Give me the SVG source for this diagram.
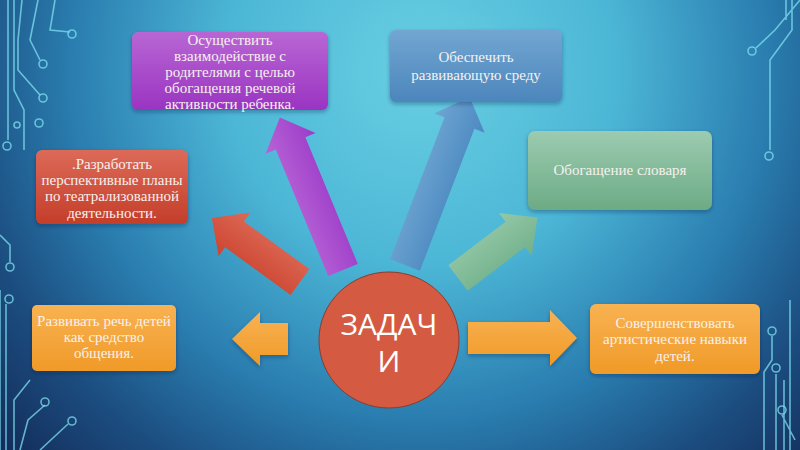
<svg xmlns="http://www.w3.org/2000/svg" width="800" height="450" viewBox="0 0 800 450">
<defs>
<radialGradient id="bg" gradientUnits="userSpaceOnUse" cx="420" cy="70" r="560">
<stop offset="0" stop-color="#68cfe2"/>
<stop offset="0.35" stop-color="#4cb6d6"/>
<stop offset="0.62" stop-color="#2a7eb0"/>
<stop offset="0.82" stop-color="#1c4d80"/>
<stop offset="1" stop-color="#132e5c"/>
</radialGradient>
<linearGradient id="gPurple" x1="0" y1="0" x2="0" y2="1"><stop offset="0" stop-color="#b866d4"/><stop offset="1" stop-color="#9a34c2"/></linearGradient>
<linearGradient id="gBlue" x1="0" y1="0" x2="0" y2="1"><stop offset="0" stop-color="#72a6d2"/><stop offset="1" stop-color="#4c86bc"/></linearGradient>
<linearGradient id="gRed" x1="0" y1="0" x2="0" y2="1"><stop offset="0" stop-color="#dc6a58"/><stop offset="1" stop-color="#c43e2a"/></linearGradient>
<linearGradient id="gGreen" x1="0" y1="0" x2="0" y2="1"><stop offset="0" stop-color="#9ccbb0"/><stop offset="1" stop-color="#6cab84"/></linearGradient>
<linearGradient id="gOrange" x1="0" y1="0" x2="0" y2="1"><stop offset="0" stop-color="#f8b252"/><stop offset="1" stop-color="#f09a28"/></linearGradient>
<linearGradient id="aPurple" x1="0" y1="0" x2="0" y2="1"><stop offset="0" stop-color="#b863d6"/><stop offset="1" stop-color="#9c3cc8"/></linearGradient>
<linearGradient id="aBlue" x1="0" y1="0" x2="0" y2="1"><stop offset="0" stop-color="#6ea6d2"/><stop offset="1" stop-color="#4c88c0"/></linearGradient>
<linearGradient id="aRed" x1="0" y1="0" x2="0" y2="1"><stop offset="0" stop-color="#cc4430"/><stop offset="1" stop-color="#dc6a56"/></linearGradient>
<linearGradient id="aGreen" x1="0" y1="0" x2="0" y2="1"><stop offset="0" stop-color="#94c8a8"/><stop offset="1" stop-color="#72b08a"/></linearGradient>
<filter id="sh" x="-10%" y="-10%" width="120%" height="130%">
<feDropShadow dx="0" dy="2" stdDeviation="2" flood-color="#0a2040" flood-opacity="0.35"/>
</filter>
</defs>
<style>
.t{font-family:"Liberation Serif","Times New Roman",serif;font-size:15px;fill:#f6f1ee;text-anchor:middle}
.c{font-family:"Open Sans","Liberation Sans",Arial,sans-serif;font-size:30px;fill:#ffffff;text-anchor:middle}
.ln{fill:none;stroke:#7fe0f0;stroke-width:1.6;opacity:0.75}
.dot{fill:none;stroke:#7fe0f0;stroke-width:1.6;opacity:0.75}
</style>
<rect width="800" height="450" fill="url(#bg)"/>

<g id="circuits">
<path class="ln" d="M8 0 V140 M14 0 V90 L24 110 V150 M22 0 L18 40 V70 L40 95 M38 0 L30 40 L40 60 M55 0 L50 30 L70 32"/>
<circle class="dot" cx="72" cy="34" r="4"/>
<circle class="dot" cx="43" cy="64" r="4"/>
<circle class="dot" cx="43" cy="98" r="4"/>
<circle class="dot" cx="39" cy="123" r="4"/>
<circle class="dot" cx="17" cy="125" r="3"/>
<circle class="dot" cx="7" cy="146" r="4"/>
<path class="ln" d="M0 235 L10 245 V262 M0 290 V450 M6 304 V450 M14 450 V400 L30 380 M20 450 L28 420 L45 405 M40 450 L68 424"/>
<circle class="dot" cx="10" cy="267" r="4"/>
<circle class="dot" cx="9" cy="299" r="4"/>
<circle class="dot" cx="45" cy="402" r="4"/>
<circle class="dot" cx="72" cy="421" r="4"/>
<path class="ln" d="M800 0 L775 30 L756 48 M792 0 V30 L770 60 V150 M786 0 V20"/>
<circle class="dot" cx="752" cy="51" r="4"/>
<circle class="dot" cx="769" cy="156" r="4"/>
<path class="ln" d="M772 336 V360 L764 372 V450 M776 374 V450 M790 300 V450 M784 380 V450 M782 415 L795 440"/>
<circle class="dot" cx="772" cy="331" r="4"/>
<circle class="dot" cx="776" cy="368" r="4"/>
<circle class="dot" cx="782" cy="410" r="4"/>
</g>

<g id="connectors">
<path d="M0 -16 H-28 V-27 L-56 0 L-28 27 V16 H0 Z" fill="url(#gOrange)" transform="translate(288 339)" filter="url(#sh)"/>
<path d="M0 -16 H82 V-28 L109 0 L82 28 V16 H0 Z" fill="url(#gOrange)" transform="translate(468 338)" filter="url(#sh)"/>
<g transform="translate(300 282) rotate(-144)"><path d="M0 -16 H81 V-27 L109 0 L81 27 V16 H0 Z" fill="url(#aRed)"/></g>
<g transform="translate(343 270) rotate(-112.5)"><path d="M0 -16 H137 V-27 L165 0 L137 27 V16 H0 Z" fill="url(#aPurple)"/></g>
<g transform="translate(405 265) rotate(-69)"><path d="M0 -16 H152 V-27 L180 0 L152 27 V16 H0 Z" fill="url(#aBlue)"/></g>
<g transform="translate(458 278) rotate(-37.3)"><path d="M0 -16 H72 V-27 L100 0 L72 27 V16 H0 Z" fill="url(#aGreen)"/></g>
</g>

<g id="node-purple">
<rect x="132" y="32" width="196" height="78" rx="6" fill="url(#gPurple)" filter="url(#sh)"/>
<text class="t" x="230" y="45">Осуществить</text>
<text class="t" x="230" y="61">взаимодействие с</text>
<text class="t" x="230" y="77">родителями с целью</text>
<text class="t" x="230" y="93">обогащения речевой</text>
<text class="t" x="230" y="109">активности ребенка.</text>
</g>

<g id="node-blue">
<rect x="390" y="30" width="172" height="72" rx="6" fill="url(#gBlue)" filter="url(#sh)"/>
<text class="t" x="476" y="62">Обеспечить</text>
<text class="t" x="476" y="80">развивающую среду</text>
</g>

<g id="node-red">
<rect x="36" y="150" width="152" height="74" rx="6" fill="url(#gRed)" filter="url(#sh)"/>
<text class="t" x="112" y="169">.Разработать</text>
<text class="t" x="112" y="185">перспективные планы</text>
<text class="t" x="112" y="201">по театрализованной</text>
<text class="t" x="112" y="218">деятельности.</text>
</g>

<g id="node-green">
<rect x="528" y="131" width="184" height="79" rx="7" fill="url(#gGreen)" filter="url(#sh)"/>
<text class="t" x="620" y="175">Обогащение словаря</text>
</g>

<g id="node-left">
<rect x="32" y="305" width="144" height="66" rx="5" fill="url(#gOrange)" filter="url(#sh)"/>
<text class="t" x="104" y="326">Развивать речь детей</text>
<text class="t" x="104" y="342">как средство</text>
<text class="t" x="104" y="358">общения.</text>
</g>

<g id="node-right">
<rect x="590" y="304" width="170" height="70" rx="6" fill="url(#gOrange)" filter="url(#sh)"/>
<text class="t" x="675" y="328">Совершенствовать</text>
<text class="t" x="675" y="344">артистические навыки</text>
<text class="t" x="675" y="361">детей.</text>
</g>

<g id="node-center">
<ellipse cx="389" cy="340" rx="70" ry="68" fill="#d45a42" stroke="#8c3b2e" stroke-width="1"/>
<text class="c" x="389" y="335">ЗАДАЧ</text>
<text class="c" x="389" y="372">И</text>
</g>
</svg>
